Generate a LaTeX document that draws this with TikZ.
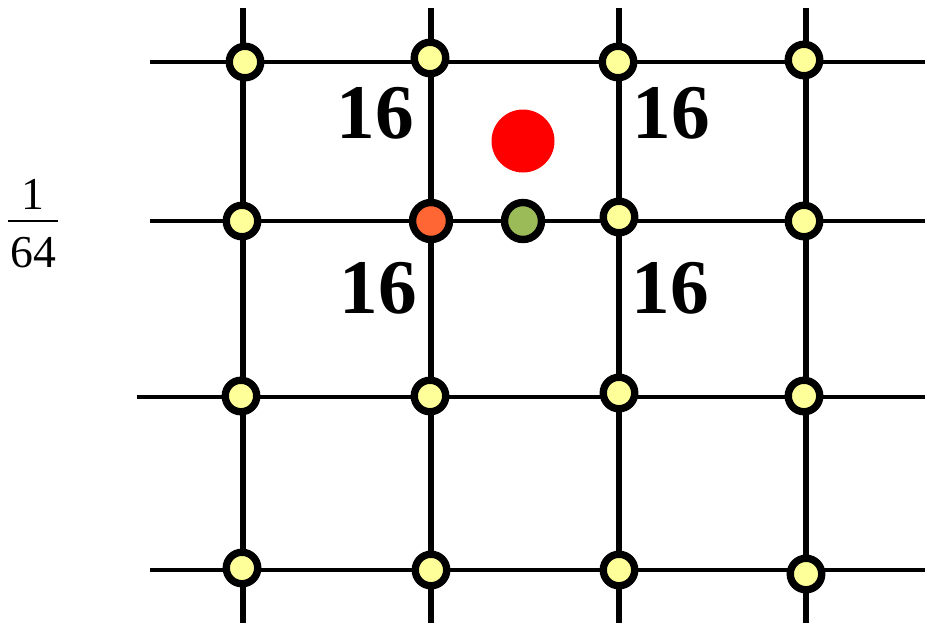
\documentclass[tikz,border=0pt]{standalone}
\usepackage{fontspec}
\setmainfont{Liberation Serif}
\definecolor{ptyellow}{HTML}{FFFF99}
\definecolor{ptorange}{HTML}{FF6633}
\definecolor{ptgreen}{HTML}{9BBB59}
\begin{document}
\begin{tikzpicture}[x=0.02cm, y=-0.02cm,
      vline/.style={line width=3.6pt},
      hline/.style={line width=2.3pt},
      pt/.style={circle, draw, line width=4.2pt, minimum size=0.63cm, inner sep=0pt, fill=ptyellow},
      hot/.style={pt, minimum size=0.74cm, fill=ptorange},
      sample/.style={pt, minimum size=0.74cm, fill=ptgreen},
      weight/.style={font=\bfseries\fontsize{44}{44}\selectfont, inner sep=0pt},
      frac/.style={font=\fontsize{26}{26}\selectfont, inner sep=0pt}]
    \useasboundingbox (0,0) rectangle (928,623);
    \foreach \x [count=\i] in {243,431,619,806} {
      \coordinate (top\i) at (\x,8);
      \coordinate (bot\i) at (\x,623);
      \draw[vline] (top\i) -- (bot\i);
    }
    \foreach \y/\xs [count=\j] in {62/150,221/150,397/137,570/150} {
      \coordinate (lft\j) at (\xs,\y);
      \coordinate (rgt\j) at (925,\y);
      \draw[hline] (lft\j) -- (rgt\j);
    }
    \node[pt] (p11) at (245,62) {};
    \node[pt] (p12) at (430,58) {};
    \node[pt] (p13) at (618,62) {};
    \node[pt] (p14) at (804,60) {};
    \node[pt] (p21) at (242,221) {};
    \node[hot] (p22) at (431,221) {};
    \node[sample] (s) at (523,221) {};
    \node[pt] (p23) at (619,217) {};
    \node[pt] (p24) at (804,221) {};
    \node[pt] (p31) at (241,396) {};
    \node[pt] (p32) at (430,396) {};
    \node[pt] (p33) at (619,393) {};
    \node[pt] (p34) at (804,396) {};
    \node[pt] (p41) at (242,568) {};
    \node[pt] (p42) at (431,570) {};
    \node[pt] (p43) at (619,570) {};
    \node[pt] (p44) at (806,574) {};
    \node[circle, fill=red, minimum size=1.26cm, inner sep=0pt] (tgt) at (523,141) {};
    \node[weight] (w1) at (375,113) {16};
    \node[weight] (w2) at (671,113) {16};
    \node[weight] (w3) at (378,288) {16};
    \node[weight] (w4) at (670,288) {16};
    \node[frac] (num) at (33,194) {1};
    \node[frac] (den) at (33,253) {64};
    \draw[line width=1.2pt] (8,221) -- (58,221);
  \end{tikzpicture}
\end{document}
